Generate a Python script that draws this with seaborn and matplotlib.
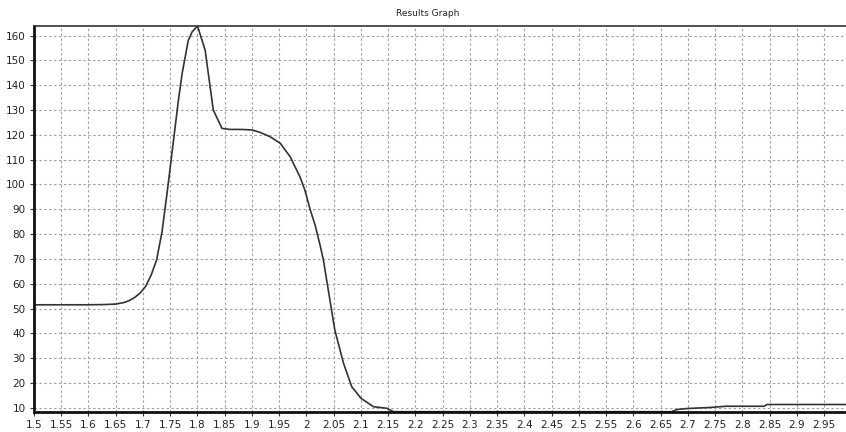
import numpy as np
import pandas as pd
import matplotlib
matplotlib.use("Agg")
import matplotlib.pyplot as plt
import seaborn as sns

# data
x_vals = [1.50, 1.55, 1.60, 1.63, 1.65, 1.665, 1.675, 1.685, 1.695, 1.705, 1.715,
          1.725, 1.735, 1.745, 1.755, 1.765, 1.772, 1.783, 1.79, 1.80, 1.814,
          1.829, 1.845, 1.86, 1.88, 1.90, 1.915, 1.933, 1.952, 1.97, 1.988,
          1.997, 2.007, 2.016, 2.025, 2.031, 2.043, 2.052, 2.068, 2.083, 2.10,
          2.123, 2.147, 2.16, 2.67, 2.68, 2.70, 2.74, 2.77, 2.84, 2.845, 2.99]
y_vals = [51.5, 51.5, 51.5, 51.6, 51.8, 52.4, 53.2, 54.5, 56.3, 59.0, 63.5,
          69.6, 81.0, 98.0, 116.0, 134.0, 145.0, 158.0, 161.5, 163.9, 154.2,
          130.0, 122.6, 122.2, 122.2, 122.0, 121.0, 119.3, 116.6, 111.2, 103.1,
          97.8, 89.7, 83.5, 75.5, 69.6, 53.4, 41.3, 27.9, 18.5, 13.8,
          10.4, 9.8, 8.4, 8.4, 9.3, 9.7, 10.1, 10.6, 10.6, 11.3, 11.3]
x_ticks = [round(1.5 + 0.05 * i, 2) for i in range(30)]
x_labels = [("%g" % t) for t in x_ticks]
y_ticks = list(range(10, 170, 10))
title = "Results Graph"

df = pd.DataFrame({"x": x_vals, "y": y_vals})

sns.set_style("white")
plt.rcParams["font.family"] = ["DejaVu Sans"]

fig = plt.figure(figsize=(8.46, 4.32), dpi=100)
ax = fig.add_axes([34 / 846, 1 - 411.7 / 432, 1 - 34 / 846, (411.7 - 26) / 432])

sns.lineplot(data=df, x="x", y="y", ax=ax, color="#333333", linewidth=1.2,
             estimator=None, sort=False)

ax.set_xlim(1.5, 2.99)
ax.set_ylim(8.4, 163.9)
ax.set_xticks(x_ticks)
ax.set_xticklabels(x_labels, fontsize=7.5, color="#222222")
ax.set_yticks(y_ticks)
ax.set_yticklabels([str(v) for v in y_ticks], fontsize=7.5, color="#222222")
ax.set_xlabel("")
ax.set_ylabel("")

ax.grid(True, which="major", color="#a0a0a0", linestyle=(0, (2.2, 2.2)), linewidth=0.8)
ax.tick_params(axis="both", which="major", length=3, width=0.8, color="#333333",
               direction="out", pad=3, bottom=True, left=True)

for side in ["left", "bottom"]:
    ax.spines[side].set_linewidth(2.0)
    ax.spines[side].set_color("#111111")
ax.spines["top"].set_linewidth(1.2)
ax.spines["top"].set_color("#333333")
ax.spines["right"].set_visible(False)

fig.text(428 / 846, 1 - 13 / 432, title, ha="center", va="center", fontsize=6.5,
         color="#222222")

fig.savefig("out.png", dpi=100)
